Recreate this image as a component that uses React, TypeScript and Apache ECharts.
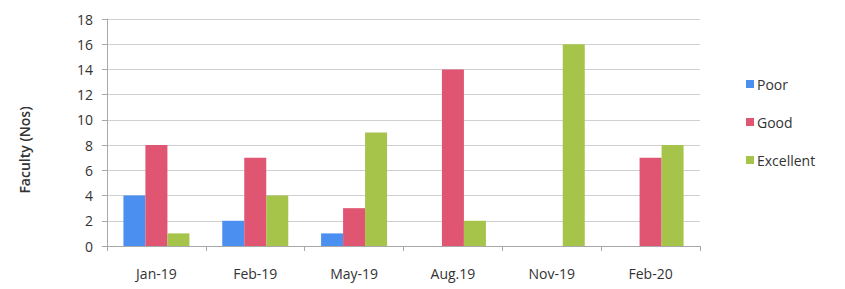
import React, { useEffect, useRef } from "react";
import * as echarts from "echarts";

const categories = ["Jan-19", "Feb-19", "May-19", "Aug.19", "Nov-19", "Feb-20"];
const poor = [4, 2, 1, 0, 0, 0];
const good = [8, 7, 3, 14, 0, 7];
const excellent = [1, 4, 9, 2, 16, 8];
const yTicks = { min: 0, max: 18, interval: 2 };

const FONT = "'Open Sans', 'Noto Sans', sans-serif";

export default function App() {
  const ref = useRef<HTMLDivElement>(null);
  useEffect(() => {
    if (!ref.current) return;
    const chart = echarts.init(ref.current, undefined, { renderer: "svg" });
    chart.setOption({
      animation: false,
      backgroundColor: "#ffffff",
      textStyle: { fontFamily: FONT },
      grid: { left: 107, right: 145, top: 19, bottom: 43 },
      legend: {
        orient: "vertical",
        left: 741,
        top: 72,
        itemWidth: 8,
        itemHeight: 8,
        itemGap: 24,
        icon: "rect",
        textStyle: { fontSize: 14, color: "#333333", fontFamily: FONT, padding: [0, 0, 0, -2] },
        data: ["Poor", "Good", "Excellent"],
      },
      graphic: [
        {
          type: "text",
          x: 24,
          y: 150,
          rotation: Math.PI / 2,
          style: {
            text: "Faculty (Nos)",
            font: `600 14px ${FONT}`,
            fill: "#333333",
            align: "center",
            verticalAlign: "middle",
          },
        },
      ],
      xAxis: {
        type: "category",
        data: categories,
        axisLine: { show: true, lineStyle: { color: "#a8a8a8" } },
        axisTick: { show: true, alignWithLabel: false, length: 5, lineStyle: { color: "#a8a8a8" } },
        axisLabel: { fontSize: 14, color: "#333333", margin: 20, fontFamily: FONT },
      },
      yAxis: {
        type: "value",
        min: yTicks.min,
        max: yTicks.max,
        interval: yTicks.interval,
        axisLine: { show: true, lineStyle: { color: "#a8a8a8" } },
        axisTick: { show: true, length: 5, lineStyle: { color: "#a8a8a8" } },
        axisLabel: { fontSize: 14, color: "#333333", margin: 14, fontFamily: FONT },
        splitLine: { show: true, lineStyle: { color: "#cfcfd4", width: 1 } },
      },
      series: [
        { name: "Poor", type: "bar", data: poor, barWidth: 22, barGap: "0%", itemStyle: { color: "#4b8ff0" } },
        { name: "Good", type: "bar", data: good, barWidth: 22, barGap: "0%", itemStyle: { color: "#e05572" } },
        { name: "Excellent", type: "bar", data: excellent, barWidth: 22, barGap: "0%", itemStyle: { color: "#a6c449" } },
      ],
    });
    return () => chart.dispose();
  }, []);
  return <div ref={ref} style={{ width: 845, height: 289, position: "absolute", left: 0, top: 0 }} />;
}
